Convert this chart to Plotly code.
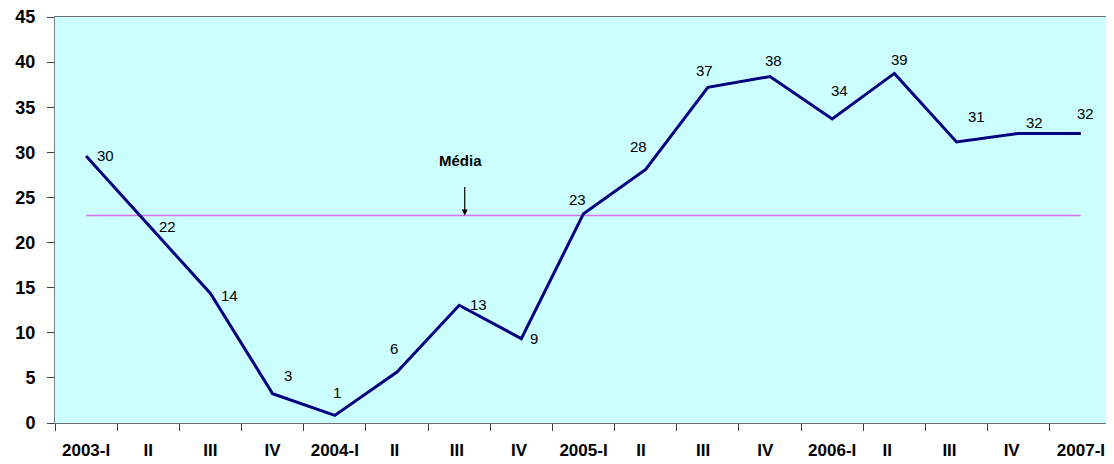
import plotly.graph_objects as go

# ---- data ----
categories = ["2003-I", "II", "III", "IV", "2004-I", "II ", "III ", "IV ",
              "2005-I", "II  ", "III  ", "IV  ", "2006-I", "II   ", "III   ", "IV   ", "2007-I"]
values = [29.6, 22.0, 14.35, 3.25, 0.84, 5.65, 13.05, 9.35,
          23.2, 28.1, 37.2, 38.4, 33.7, 38.75, 31.15, 32.1, 32.1]
media = 23.0
y_ticks = [0, 5, 10, 15, 20, 25, 30, 35, 40, 45]

# label offsets in pixels (style only)
label_dx = [19, 19, 19, 15, 2, -3, 19, 13, -6, -7, -3, 3, 7, 5, 20, 16, 5]
label_dy = [0, -2, -2, 18, 23, 24, 1, 0, 14, 23, 17, 16, 28, 14, 25, 11, 20]

FONT = "Liberation Sans, Arial, sans-serif"

fig = go.Figure()
fig.add_trace(go.Scatter(
    x=categories, y=[media] * len(categories), mode="lines",
    line=dict(color="#D870EE", width=1.5), hoverinfo="skip", showlegend=False))
fig.add_trace(go.Scatter(
    x=categories, y=values, mode="lines",
    line=dict(color="#000080", width=3), showlegend=False))

for i, v in enumerate(values):
    fig.add_annotation(
        x=i, y=v, xref="x", yref="y", text=str(int(round(v))), showarrow=False,
        xshift=label_dx[i], yshift=label_dy[i],
        font=dict(family=FONT, size=15, color="#000000"))

# Média arrow
fig.add_annotation(
    x=6.09, y=media, xref="x", yref="y", text="", showarrow=True,
    ax=0, ay=-30, arrowhead=2, arrowsize=1, arrowwidth=1.2, arrowcolor="#000000")
fig.add_annotation(
    x=6.02, y=29.1, xref="x", yref="y", text="<b>Média</b>", showarrow=False,
    font=dict(family=FONT, size=15, color="#000000"))

fig.update_layout(
    width=1106, height=456,
    margin=dict(l=47, r=2, t=9, b=41),
    paper_bgcolor="#FFFFFF", plot_bgcolor="#CCFFFF",
    font=dict(family=FONT, color="#000000"),
)
fig.update_xaxes(
    type="category", range=[-0.5, len(categories) - 0.5],
    tickson="boundaries", ticks="outside", ticklen=7, tickcolor="#404040",
    showline=True, linecolor="#707070", linewidth=1, mirror=True,
    showgrid=False, zeroline=False, automargin=False,
    tickfont=dict(family=FONT, size=17, color="#000000", weight="bold"),
    ticklabelstandoff=12, ticklabeloverflow="allow",
)
fig.update_yaxes(
    range=[0, 45], tickvals=y_ticks, ticks="outside", ticklen=7, tickcolor="#404040",
    showline=True, linecolor="#808080", linewidth=1, mirror=True,
    showgrid=False, zeroline=False, automargin=False,
    tickfont=dict(family=FONT, size=18, color="#000000", weight="bold"),
    ticklabelstandoff=8, ticklabeloverflow="allow",
)

fig.write_html("out.html")
